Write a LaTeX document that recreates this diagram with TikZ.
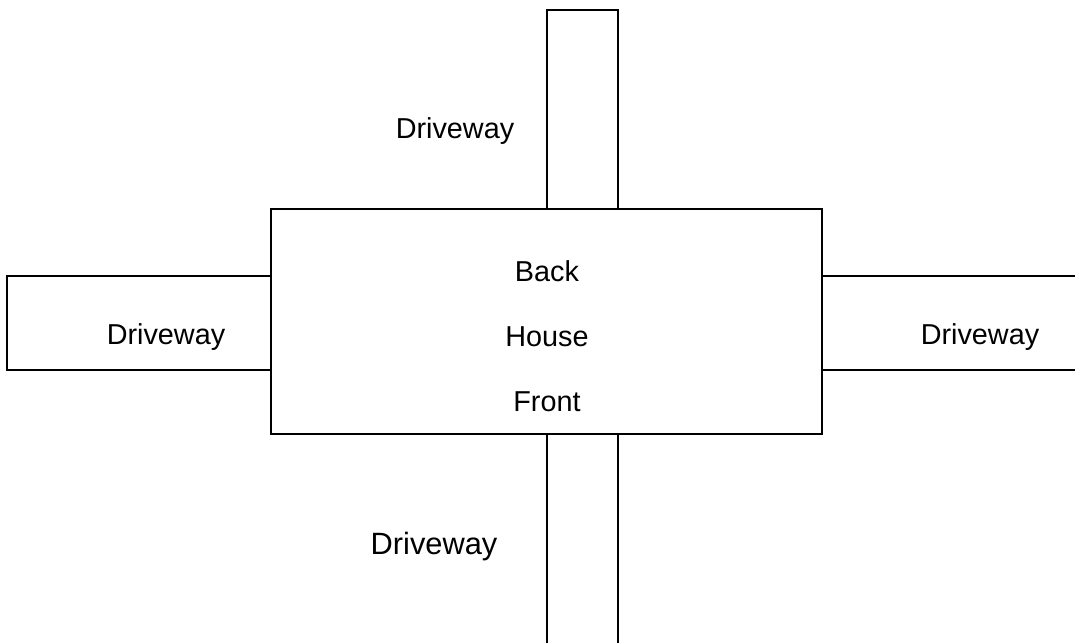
\documentclass[tikz,border=0pt]{standalone}
\usepackage{fontspec}
\setmainfont{Liberation Sans}
\usepackage{tikz}
\tikzset{
    outline/.style={draw=black, line width=1pt},
    label/.style={font=\fontsize{14.4}{17}\selectfont, inner sep=0pt},
    biglabel/.style={label, font=\fontsize{15.4}{18}\selectfont}
}

\begin{document}
\begin{tikzpicture}[x=0.5pt, y=-0.5pt]
    \useasboundingbox (0,0) rectangle (1075,643);
    % house
    \draw[outline] (271,209) rectangle (822,434);
    % driveways
    \draw[outline] (547,209) -- (547,10) -- (618,10) -- (618,209);
    \draw[outline] (271,276) -- (7,276) -- (7,370) -- (271,370);
    \draw[outline] (1075,276) -- (822,276) -- (822,370) -- (1075,370);
    \draw[outline] (547,643) -- (547,434);
    \draw[outline] (618,643) -- (618,434);
    % texts
    \node[label] (back) at (547,271) {Back};
    \node[label] (house) at (547,337) {House};
    \node[label] (front) at (547,402) {Front};
    \node[label] (drivetop) at (455,131) {Driveway};
    \node[label] (driveleft) at (166,337) {Driveway};
    \node[label] (driveright) at (980,337) {Driveway};
    \node[biglabel] (drivebottom) at (434,547) {Driveway};
\end{tikzpicture}
\end{document}
